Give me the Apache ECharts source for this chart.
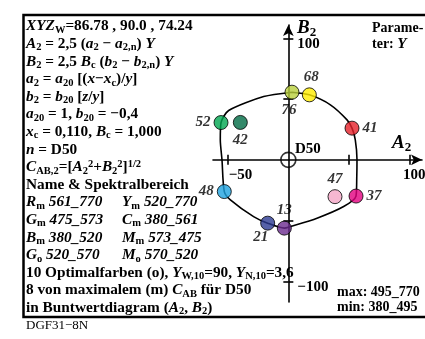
<!DOCTYPE html>
<html>
<head>
<meta charset="utf-8">
<title>DGF31-8N</title>
<script src="https://cdn.jsdelivr.net/npm/echarts@6/dist/echarts.min.js"></script>
<style>
  html, body { margin: 0; padding: 0; background: #fff; }
  #chart { width: 425px; height: 339px; }
</style>
</head>
<body>
<div id="chart"></div>
<script>
// colour samples, label = Y value printed next to each dot
const pointNames = ['76', '68', '41', '37', '47', '13', '21', '48', '52', '42'];
const pointA = [3.0, 17.3, 52.4, 55.7, 38.4, -3.3, -17.0, -52.7, -55.4, -39.5];
const pointB = [55.7, 53.5, 26.1, -29.8, -30.3, -56.2, -52.1, -26.1, 30.7, 30.8];

// closed boundary through the maximal colours
const curveA = [3.0, 17.3, 34.6, 48.3, 52.4, 55.1, 56.5, 56.3, 55.7, 45.5, 23.6, 1.6, -3.3, -17.0, -28.6, -47.7, -52.7, -54.6, -56.0, -55.4, -49.1, -20.3, 3.0];
const curveB = [55.7, 53.5, 45.3, 32.9, 26.1, 16.5, 0, -15.0, -29.8, -38.4, -48.0, -54.9, -56.2, -52.1, -46.7, -32.9, -26.1, 0, 16.5, 30.7, 40.6, 52.1, 55.7];

const xTicks = [-50, 50, 100];
const xTickLabels = [-50, 100];
const yTicks = [100, 50, -50, -100];
const yTickLabels = [100, -100];

const pointColors = ['#b9cf3c', '#ffec00', '#e62129', '#e4007f', '#f4a5c5', '#6b2c8f', '#2c3a92', '#1ea2e0', '#00a650', '#006b45'];
const labelPos = {
  '76': ['bottom', [-3, 0]], '68': ['top', [2, 0]], '41': ['right', [0, 0]], '37': ['right', [0, 0]],
  '47': ['top', [0, 0]], '13': ['top', [0, 0]], '21': ['bottom', [-7, -4]], '48': ['left', [0, 0]],
  '52': ['left', [0, 0]], '42': ['bottom', [0, 0]]
};

const SERIF = '"Liberation Serif", "Times New Roman", serif';
const fmt = v => (v < 0 ? '\u2212' + (-v) : '' + v);
const FS = 15.3;

const rich = {
  i: { fontFamily: SERIF, fontSize: FS, fontWeight: 'bold', fontStyle: 'italic', lineHeight: 18 },
  sub: { fontFamily: SERIF, fontSize: 10.5, fontWeight: 'bold', verticalAlign: 'bottom' },
  sup: { fontFamily: SERIF, fontSize: 10.5, fontWeight: 'bold', verticalAlign: 'top' },
  big: { fontFamily: SERIF, fontSize: 19, fontWeight: 'bold', fontStyle: 'italic', lineHeight: 22 },
  bsub: { fontFamily: SERIF, fontSize: 13, fontWeight: 'bold', verticalAlign: 'bottom' }
};

const txt = (x, y, text, size, weight) => ({
  type: 'text', x, y, z: 10,
  style: {
    text, fill: '#000', fontFamily: SERIF, fontSize: size || FS, fontWeight: weight || 'bold',
    lineHeight: 18, verticalAlign: 'middle', rich
  }
});

const leftLines = [
  '{i|XYZ}{sub|W}=86.78 , 90.0 , 74.24',
  '{i|A}{sub|2} = 2,5 ({i|a}{sub|2} \u2212 {i|a}{sub|2,n}) {i|Y}',
  '{i|B}{sub|2} = 2,5 {i|B}{sub|c} ({i|b}{sub|2} \u2212 {i|b}{sub|2,n}) {i|Y}',
  '{i|a}{sub|2} = {i|a}{sub|20} [({i|x}\u2212{i|x}{sub|c})/{i|y}]',
  '{i|b}{sub|2} = {i|b}{sub|20} [{i|z}/{i|y}]',
  '{i|a}{sub|20} = 1, {i|b}{sub|20} = \u22120,4',
  '{i|x}{sub|c} = 0,110, {i|B}{sub|c} = 1,000',
  '{i|n} = D50',
  '{i|C}{sub|AB,2}=[{i|A}{sub|2}{sup|2}+{i|B}{sub|2}{sup|2}]{sup|1/2}',
  'Name & Spektralbereich',
  '{i|R}{sub|m}{i| 561_770}',
  '{i|G}{sub|m}{i| 475_573}',
  '{i|B}{sub|m}{i| 380_520}',
  '{i|G}{sub|o}{i| 520_570}',
  '10 Optimalfarben (o), {i|Y}{sub|W,10}=90, {i|Y}{sub|N,10}=3,6',
  '8 von maximalem (m) {i|C}{sub|AB} f\u00fcr D50',
  'in Buntwertdiagram ({i|A}{sub|2}, {i|B}{sub|2})'
];
const rightCol = [
  '{i|Y}{sub|m}{i| 520_770}',
  '{i|C}{sub|m}{i| 380_561}',
  '{i|M}{sub|m}{i| 573_475}',
  '{i|M}{sub|o}{i| 570_520}'
];

const graphics = [
  {
    type: 'polyline', z: 10,
    shape: { points: [[425, 15], [23.5, 15], [23.5, 317], [425, 317]] },
    style: { stroke: '#000', lineWidth: 2.5, fill: null }
  }
];
leftLines.forEach((t, i) => graphics.push(txt(26, 26.5 + i * 17.6, t)));
rightCol.forEach((t, i) => graphics.push(txt(122, 26.5 + (i + 10) * 17.6, t)));
graphics.push(txt(297, 28, '{big|B}{bsub|2}'));
graphics.push(txt(392, 143, '{big|A}{bsub|2}'));
graphics.push(txt(295, 149, 'D50', 15));
graphics.push(txt(372, 28, 'Parame-', 14));
graphics.push(txt(372, 44, 'ter: {i|Y}', 14));
graphics.push(txt(337, 292, 'max: 495_770', 14));
graphics.push(txt(337, 307, 'min: 380_495', 14));
graphics.push(txt(26, 326, 'DGF31\u22128N', 13, 'normal'));

const axisFont = { fontFamily: SERIF, fontSize: 15, fontWeight: 'bold', color: '#000' };
const lineStyle = { color: '#000', width: 1.6 };

// grid: 213..422 px wide, 25..302 px high; axes moved onto the zero lines by offset
const X_MIN = -62, X_MAX = 110, Y_MIN = -117, Y_MAX = 111;
const GRID = { left: 213, top: 25, width: 209, height: 277 };
const xOffset = -(GRID.height * (0 - Y_MIN) / (Y_MAX - Y_MIN));
const yOffset = -(GRID.width * (0 - X_MIN) / (X_MAX - X_MIN));

const makeX = inside => ({
  type: 'value', min: X_MIN, max: X_MAX, position: 'bottom', offset: xOffset,
  axisLine: {
    show: !inside, onZero: false, lineStyle,
    symbol: ['none', 'arrow'], symbolSize: [8, 11]
  },
  axisTick: { show: true, customValues: xTicks, inside, length: 5, lineStyle },
  axisLabel: {
    show: !inside, customValues: xTickLabels, margin: 8,
    formatter: v => (v < 0 ? '{n|' + fmt(v) + '}' : '{p|' + fmt(v) + '}'),
    rich: { n: { ...axisFont, padding: [0, 0, 0, 26] }, p: { ...axisFont, padding: [0, 0, 0, 9] } }
  },
  splitLine: { show: false }
});

const makeY = inside => ({
  type: 'value', min: Y_MIN, max: Y_MAX, position: 'left', offset: yOffset,
  axisLine: {
    show: !inside, onZero: false, lineStyle,
    symbol: ['none', 'arrow'], symbolSize: [8, 11]
  },
  axisTick: { show: true, customValues: yTicks, inside, length: 5, lineStyle },
  axisLabel: {
    show: !inside, inside: true, customValues: yTickLabels, margin: 9,
    formatter: fmt, ...axisFont, verticalAlign: 'top', lineHeight: 12
  },
  splitLine: { show: false }
});

const chart = echarts.init(document.getElementById('chart'), null, { renderer: 'canvas' });

chart.setOption({
  animation: false,
  backgroundColor: '#fff',
  grid: { left: GRID.left, top: GRID.top, width: GRID.width, height: GRID.height, containLabel: false, outerBoundsMode: 'none' },
  xAxis: [makeX(false), makeX(true)],
  yAxis: [makeY(false), makeY(true)],
  graphic: { elements: graphics },
  series: [
    {
      type: 'line',
      data: curveA.map((a, i) => [a, curveB[i]]),
      symbol: 'none',
      smooth: 0.25,
      lineStyle: { color: '#000', width: 1.6 },
      z: 2
    },
    {
      type: 'scatter',
      data: [[0, 0]],
      symbol: 'circle',
      symbolSize: 15,
      itemStyle: { color: 'rgba(0,0,0,0)', borderColor: '#000', borderWidth: 1.6 },
      z: 3
    },
    {
      type: 'scatter',
      symbolSize: 14,
      z: 4,
      data: pointNames.map((n, i) => ({
        name: n,
        value: [pointA[i], pointB[i]],
        itemStyle: { color: pointColors[i], borderColor: '#000', borderWidth: 1 },
        label: {
          show: true, formatter: n, position: labelPos[n][0], offset: labelPos[n][1], distance: 3,
          fontFamily: SERIF, fontSize: 15, fontWeight: 'bold', fontStyle: 'italic', color: '#000'
        }
      }))
    }
  ]
});

window.addEventListener('resize', () => chart.resize());
</script>
</body>
</html>
